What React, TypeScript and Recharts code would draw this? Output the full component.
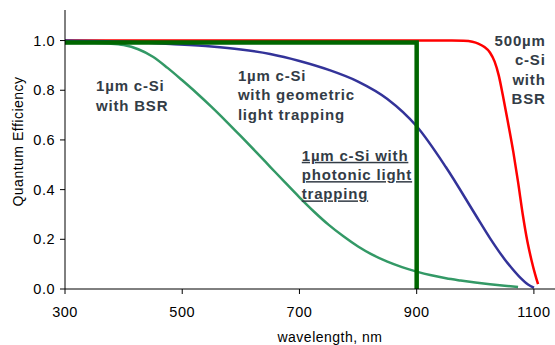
import React from 'react';
import { LineChart, Line, XAxis, YAxis, ReferenceDot } from 'recharts';

const xTicks = [300, 500, 700, 900, 1100];
const yTicks = [0, 0.2, 0.4, 0.6, 0.8, 1.0];

// 500um c-Si with BSR (red)
const wlThick = [300, 500, 700, 900, 960, 980, 995, 1005, 1015, 1025, 1033, 1040, 1047, 1055, 1065, 1073, 1081, 1089, 1096, 1102, 1107];
const qeThick = [1, 1, 1, 1, 1, 0.999, 0.995, 0.988, 0.975, 0.952, 0.915, 0.86, 0.78, 0.68, 0.55, 0.43, 0.3, 0.19, 0.115, 0.06, 0.02];

// 1um c-Si with geometric light trapping (blue)
const wlGeom = [300, 400, 480, 550, 600, 650, 700, 750, 800, 850, 900, 950, 1000, 1025, 1050, 1075, 1090, 1100];
const qeGeom = [1, 0.995, 0.986, 0.976, 0.964, 0.946, 0.918, 0.882, 0.835, 0.765, 0.655, 0.49, 0.3, 0.205, 0.12, 0.05, 0.018, 0.005];

// 1um c-Si with BSR (light green)
const wlBSR = [300, 350, 375, 400, 425, 450, 475, 500, 525, 550, 575, 600, 625, 650, 675, 700, 725, 750, 775, 800, 825, 850, 875, 900, 925, 950, 975, 1000, 1025, 1050, 1073];
const qeBSR = [0.99, 0.99, 0.988, 0.982, 0.965, 0.935, 0.89, 0.84, 0.788, 0.733, 0.675, 0.615, 0.554, 0.492, 0.43, 0.369, 0.311, 0.258, 0.212, 0.171, 0.137, 0.11, 0.088, 0.07, 0.055, 0.043, 0.034, 0.026, 0.019, 0.013, 0.008];

// 1um c-Si with photonic light trapping (dark green)
const wlPhot = [300, 900, 900];
const qePhot = [0.992, 0.992, 0];

const toPts = (xs: number[], ys: number[]) => xs.map((x, i) => ({ x, y: ys[i] }));

const FONT = '"Liberation Sans", Arial, sans-serif';
const TXT = '#333c46';

const Annot = (props: any) => {
  const { cx, cy, lines, anchor, underline } = props;
  if (cx == null || cy == null) return null;
  return (
    <text
      x={cx}
      y={cy}
      fontFamily={FONT}
      fontWeight="bold"
      fontSize={15}
      fill={TXT}
      letterSpacing={0.8}
      textAnchor={anchor || 'start'}
      style={underline ? { textDecoration: 'underline' } : undefined}
    >
      {lines.map((l: string, i: number) => (
        <tspan key={i} x={cx} dy={i === 0 ? 0 : 19.3}>
          {l}
        </tspan>
      ))}
    </text>
  );
};

const YTitle = (props: any) => {
  const vb = props.viewBox || { x: 0, y: 10, width: 65, height: 279 };
  const x = vb.x + 23;
  const y = vb.y + vb.height / 2 - 8;
  return (
    <text
      x={x}
      y={y}
      transform={`rotate(-90, ${x}, ${y})`}
      textAnchor="middle"
      fontFamily={FONT}
      fontSize={14}
      letterSpacing={0.5}
      fill="#000"
    >
      Quantum Efficiency
    </text>
  );
};

const XTitle = (props: any) => {
  const vb = props.viewBox || { x: 65, y: 289, width: 490, height: 56 };
  const x = vb.x + vb.width / 2 + 20;
  const y = vb.y + vb.height - 3;
  return (
    <text x={x} y={y} textAnchor="middle" fontFamily={FONT} fontSize={14} letterSpacing={0.5} fill="#000">
      wavelength, nm
    </text>
  );
};

export default function App() {
  const tickStyle = { fontFamily: FONT, fontSize: 14.5, fill: '#000', letterSpacing: 0.5 };
  return (
    <div style={{ position: 'absolute', left: 0, top: 0, width: 555, height: 345, background: '#fff' }}>
      <LineChart width={555} height={345} margin={{ top: 10, right: 0, left: 0, bottom: 0 }}>
        <XAxis
          type="number"
          dataKey="x"
          domain={[300, 1136]}
          ticks={xTicks}
          allowDataOverflow
          height={56}
          tickSize={5}
          tickMargin={13}
          axisLine={{ stroke: '#000', strokeWidth: 1 }}
          tickLine={{ stroke: '#000', strokeWidth: 1 }}
          tick={tickStyle}
          label={<XTitle />}
        />
        <YAxis
          type="number"
          domain={[0, 1.123]}
          ticks={yTicks}
          allowDataOverflow
          width={65}
          tickSize={5}
          tickMargin={5}
          tickFormatter={(v: number) => v.toFixed(1)}
          axisLine={{ stroke: '#000', strokeWidth: 1 }}
          tickLine={{ stroke: '#000', strokeWidth: 1 }}
          tick={tickStyle}
          label={<YTitle />}
        />
        <Line data={toPts(wlThick, qeThick)} dataKey="y" type="monotone" stroke="#ff0000" strokeWidth={2.5} dot={false} isAnimationActive={false} />
        <Line data={toPts(wlGeom, qeGeom)} dataKey="y" type="monotone" stroke="#333399" strokeWidth={2.5} dot={false} isAnimationActive={false} />
        <Line data={toPts(wlBSR, qeBSR)} dataKey="y" type="monotone" stroke="#339966" strokeWidth={2.5} dot={false} isAnimationActive={false} />
        <Line data={toPts(wlPhot, qePhot)} dataKey="y" type="linear" stroke="#006600" strokeWidth={4.5} dot={false} isAnimationActive={false} />
        <ReferenceDot x={353} y={0.795} r={0} shape={(p: any) => <Annot {...p} lines={['1\u00b5m c-Si', 'with BSR']} />} />
        <ReferenceDot x={595} y={0.837} r={0} shape={(p: any) => <Annot {...p} lines={['1\u00b5m c-Si', 'with geometric', 'light trapping']} />} />
        <ReferenceDot x={704} y={0.516} r={0} shape={(p: any) => <Annot {...p} underline lines={['1\u00b5m c-Si with', 'photonic light', 'trapping']} />} />
        <ReferenceDot x={1120} y={0.978} r={0} shape={(p: any) => <Annot {...p} anchor="end" lines={['500\u00b5m', 'c-Si', 'with', 'BSR']} />} />
      </LineChart>
    </div>
  );
}
